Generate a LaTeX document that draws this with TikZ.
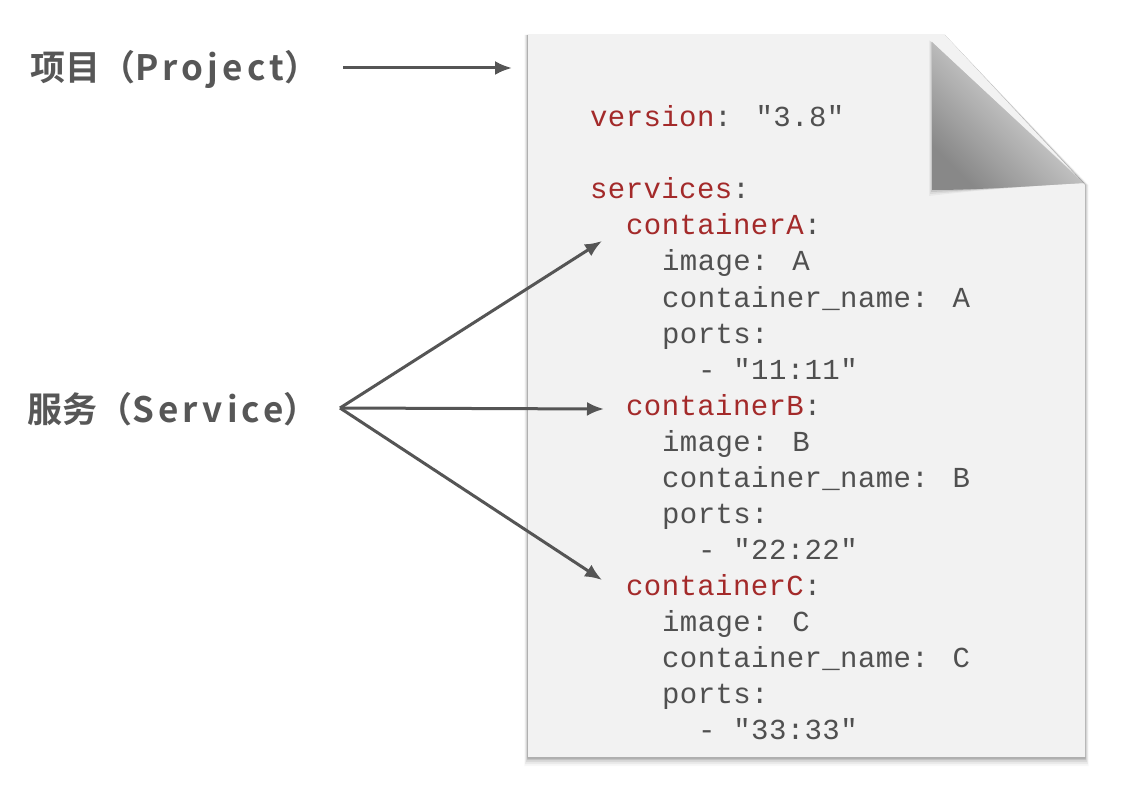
\documentclass[tikz,border=0pt]{standalone}
\usepackage{fontspec}
\usetikzlibrary{arrows.meta}
\newfontfamily\cjkfont{Noto Sans CJK SC Bold}
\newfontfamily\latinfont{Noto Sans CJK SC Bold}[LetterSpace=12]
\newfontfamily\codefont{Liberation Mono}[LetterSpace=1.4]
\definecolor{keyred}{HTML}{A32A2A}
\definecolor{codegray}{HTML}{505050}
\definecolor{labelgray}{HTML}{575757}
\definecolor{paper}{HTML}{F2F2F2}
\definecolor{arrowgray}{HTML}{555555}
\definecolor{folddark}{HTML}{888888}
\definecolor{foldlight}{HTML}{EEEEEE}
\begin{document}
\begin{tikzpicture}[x=1pt,y=1pt,
  tag/.style={font=\cjkfont\fontsize{35}{40}\selectfont, text=labelgray, inner sep=0pt, anchor=west},
  codeline/.style={font=\codefont\fontsize{29}{36}\selectfont, text=codegray, inner sep=0pt, anchor=base west},
  conn/.style={draw=arrowgray, line width=3pt, -{Latex[length=17pt,width=14pt]}},
  ]
\useasboundingbox (0,0) rectangle (1132,-794);
\fill[white] (0,0) rectangle (1132,-794);
% page shadow
\foreach \d/\o in {9/0.03, 7/0.05, 5/0.07, 3/0.10, 1.5/0.14} {
  \fill[black, opacity=\o] (528-\d*0.4,-35) -- (945,-35) -- (1085+\d*0.4,-185) -- (1085+\d*0.4,-757-\d) -- (528-\d*0.4,-757-\d) -- cycle;
}
% page
\fill[paper] (528,-35) -- (945,-35) -- (1085,-185) -- (1085,-757) -- (528,-757) -- cycle;
% fold shadow
\foreach \d/\o in {6/0.04, 4/0.06, 2/0.09} {
  \fill[black, opacity=\o] (932-\d*0.5,-42+\d*0.3) -- (1083+\d*0.3,-183) .. controls (1030,-186) and (980,-190) .. (932-\d*0.5,-190-\d) -- cycle;
}
% fold
\shade[top color=foldlight, bottom color=folddark, shading angle=-45]
  (932,-42) -- (1083,-183) .. controls (1030,-186) and (980,-190) .. (932,-190) -- cycle;
% labels
\node[tag] (proj) at (30,-69) {项目（{\latinfont Project}）};
\node[tag] (svc) at (27,-409) {服务（{\latinfont Service}）};
% code
\node[codeline] (l0) at (590,-127) {\textcolor{keyred}{version}: "3.8"};
\node[codeline] (l2) at (590,-199) {\textcolor{keyred}{services}:};
\node[codeline] (cA) at (626,-235) {\textcolor{keyred}{containerA}:};
\node[codeline] (l4) at (662,-271) {image: A};
\node[codeline] (l5) at (662,-307) {container\_name: A};
\node[codeline] (l6) at (662,-343) {ports:};
\node[codeline] (l7) at (698,-379) {- "11:11"};
\node[codeline] (cB) at (626,-415) {\textcolor{keyred}{containerB}:};
\node[codeline] (l9) at (662,-451) {image: B};
\node[codeline] (l10) at (662,-487) {container\_name: B};
\node[codeline] (l11) at (662,-523) {ports:};
\node[codeline] (l12) at (698,-559) {- "22:22"};
\node[codeline] (cC) at (626,-595) {\textcolor{keyred}{containerC}:};
\node[codeline] (l14) at (662,-631) {image: C};
\node[codeline] (l15) at (662,-667) {container\_name: C};
\node[codeline] (l16) at (662,-703) {ports:};
\node[codeline] (l17) at (698,-739) {- "33:33"};
% connectors
\coordinate (projtail) at (343,-68);
\coordinate (projtip) at (512,-68);
\coordinate (svctail) at (340,-408);
\coordinate (tipA) at (602,-241);
\coordinate (tipB) at (604,-409);
\coordinate (tipC) at (602,-580);
\draw[conn] (projtail) -- (projtip);
\draw[conn] (svctail) -- (tipA);
\draw[conn] (svctail) -- (tipB);
\draw[conn] (svctail) -- (tipC);
\end{tikzpicture}
\end{document}
